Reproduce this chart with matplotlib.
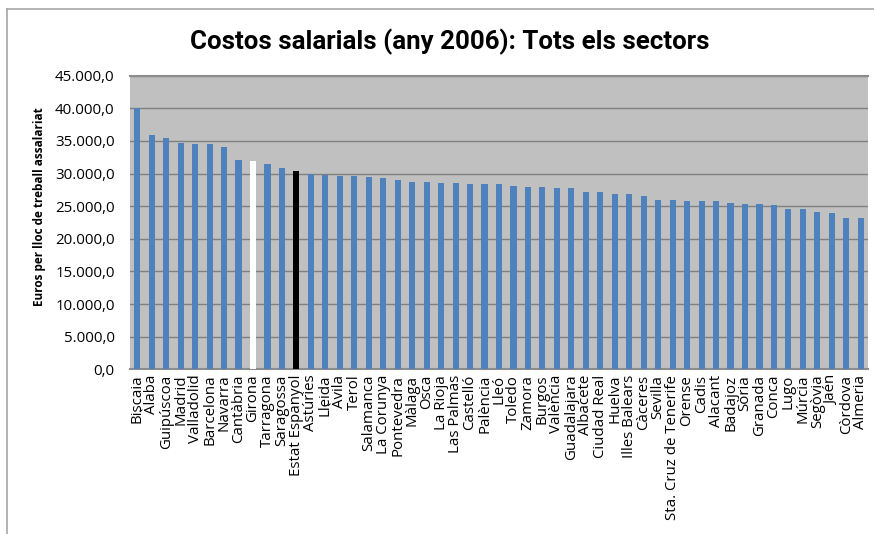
import matplotlib
matplotlib.use("Agg")
import matplotlib.pyplot as plt
from matplotlib.ticker import FuncFormatter, MultipleLocator
from matplotlib.lines import Line2D

title = "Costos salarials (any 2006): Tots els sectors"
ylabel = "Euros per lloc de treball assalariat"

categories = [
    "Biscaia", "Àlaba", "Guipúscoa", "Madrid", "Valladolid", "Barcelona", "Navarra",
    "Cantàbria", "Girona", "Tarragona", "Saragossa", "Estat Espanyol", "Astúries",
    "Lleida", "Àvila", "Terol", "Salamanca", "La Corunya", "Pontevedra", "Màlaga",
    "Osca", "La Rioja", "Las Palmas", "Castelló", "Palència", "Lleó", "Toledo",
    "Zamora", "Burgos", "València", "Guadalajara", "Albacete", "Ciudad Real",
    "Huelva", "Illes Balears", "Càceres", "Sevilla", "Sta. Cruz de Tenerife",
    "Orense", "Cadis", "Alacant", "Badajoz", "Sòria", "Granada", "Conca", "Lugo",
    "Múrcia", "Segòvia", "Jaén", "Còrdova", "Almeria",
]
values = [
    40100, 35870, 35500, 34730, 34580, 34580, 34030,
    32040, 31930, 31470, 30900, 30400, 29980,
    29780, 29630, 29630, 29430, 29280, 29060, 28710,
    28710, 28560, 28560, 28360, 28360, 28360, 28140,
    27990, 27990, 27790, 27790, 27220, 27220,
    26870, 26870, 26520, 25950, 25950,
    25750, 25750, 25750, 25540, 25340, 25340, 25190, 24620,
    24620, 24110, 23910, 23190, 23190,
]
highlight_white = "Girona"
highlight_black = "Estat Espanyol"

W, H = 874, 534
fig = plt.figure(figsize=(W / 100, H / 100), dpi=100)
fig.patch.set_facecolor("white")

# chart frame
fig.add_artist(Line2D([7 / W, 7 / W], [0, 1 - 9 / H], color="#A6A6A6", lw=1.2))
fig.add_artist(Line2D([7 / W, 1], [1 - 9 / H, 1 - 9 / H], color="#A6A6A6", lw=1.2))

left, right, top, bottom = 130, 868, 75.7, 369.3
ax = fig.add_axes([left / W, 1 - bottom / H, (right - left) / W, (bottom - top) / H])
ax.set_facecolor("#C0C0C0")

colors = []
for c in categories:
    if c == highlight_white:
        colors.append("white")
    elif c == highlight_black:
        colors.append("black")
    else:
        colors.append("#4F81BD")

x = list(range(len(categories)))
ax.bar(x, values, width=0.42, color=colors, zorder=3)
ax.set_xlim(-0.5, len(categories) - 0.5)
ax.set_ylim(0, 45000)
ax.yaxis.set_major_locator(MultipleLocator(5000))
ax.yaxis.set_major_formatter(FuncFormatter(
    lambda v, p: f"{v:,.1f}".replace(",", "X").replace(".", ",").replace("X", ".")))
ax.grid(axis="y", color="#808080", lw=1.0, zorder=1)
ax.set_axisbelow(True)
for s in ["left", "right"]:
    ax.spines[s].set_visible(False)
ax.spines["top"].set_color("#8C8C8C")
ax.spines["bottom"].set_color("#8C8C8C")
ax.spines["top"].set_linewidth(1.5)
ax.spines["bottom"].set_linewidth(1.5)
ax.tick_params(axis="both", length=0)
ax.tick_params(axis="y", pad=11)
ax.set_xticks(x)
ax.set_xticklabels(categories, rotation=90, fontsize=10.8, family="Open Sans")
for lab in ax.get_yticklabels():
    lab.set_family("Open Sans")
    lab.set_fontsize(10.8)
ax.tick_params(axis="x", pad=4)

fig.text(40 / W, 1 - 207 / H, ylabel, rotation=90, ha="center", va="center",
         fontsize=8.5, fontweight="bold", family="Open Sans")
fig.text(450 / W, 1 - 42 / H, title, ha="center", va="center",
         fontsize=18.6, fontweight="bold", family="Roboto")

fig.savefig("out.png", dpi=100, facecolor="white")
